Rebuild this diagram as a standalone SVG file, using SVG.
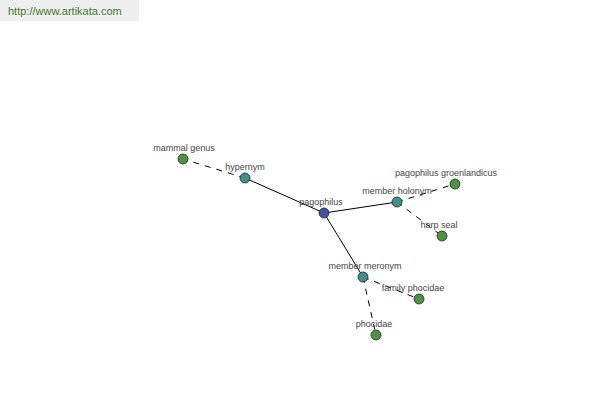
<svg xmlns="http://www.w3.org/2000/svg" width="600" height="400" viewBox="0 0 600 400">
<style>
.lbl{font-family:"Liberation Sans",Arial,sans-serif;font-size:9px;fill:#444;text-anchor:middle}
.e{stroke:#000;stroke-width:1;fill:none}
.d{stroke-dasharray:6,6}
.n{stroke:#222;stroke-width:0.8}
.root{fill:#4352a3}
.mid{fill:#3f8f90}
.leaf{fill:#4c9440}
</style>
<rect x="0" y="0" width="600" height="400" fill="#fff"/>
<rect x="0" y="0" width="139" height="21" fill="#eeeeee"/>
<text x="8" y="15" font-family="'Liberation Sans',Arial,sans-serif" font-size="11" fill="#3c7a2c">http://www.artikata.com</text>
<g id="connectors">
<line class="e" x1="324" y1="213" x2="245" y2="178"/>
<line class="e" x1="324" y1="213" x2="397" y2="202"/>
<line class="e" x1="324" y1="213" x2="363" y2="277"/>
<line class="e d" x1="245" y1="178" x2="183" y2="159"/>
<line class="e d" x1="397" y1="202" x2="455" y2="184"/>
<line class="e d" x1="397" y1="202" x2="442" y2="236"/>
<line class="e d" x1="363" y1="277" x2="419" y2="299"/>
<line class="e d" x1="363" y1="277" x2="376" y2="335"/>
</g>
<g id="node-pagophilus"><circle class="n root" cx="324" cy="213" r="5"/><text class="lbl" x="321" y="205">pagophilus</text></g>
<g id="node-hypernym"><circle class="n mid" cx="245" cy="178" r="5"/><text class="lbl" x="245" y="170">hypernym</text></g>
<g id="node-mammal-genus"><circle class="n leaf" cx="183" cy="159" r="5"/><text class="lbl" x="184" y="151">mammal genus</text></g>
<g id="node-member-holonym"><circle class="n mid" cx="397" cy="202" r="5"/><text class="lbl" x="397" y="194">member holonym</text></g>
<g id="node-pagophilus-groenlandicus"><circle class="n leaf" cx="455" cy="184" r="5"/><text class="lbl" x="446" y="176">pagophilus groenlandicus</text></g>
<g id="node-harp-seal"><circle class="n leaf" cx="442" cy="236" r="5"/><text class="lbl" x="439" y="228">harp seal</text></g>
<g id="node-member-meronym"><circle class="n mid" cx="363" cy="277" r="5"/><text class="lbl" x="365" y="269">member meronym</text></g>
<g id="node-family-phocidae"><circle class="n leaf" cx="419" cy="299" r="5"/><text class="lbl" x="413" y="291">family phocidae</text></g>
<g id="node-phocidae"><circle class="n leaf" cx="376" cy="335" r="5"/><text class="lbl" x="374" y="327">phocidae</text></g>
</svg>
